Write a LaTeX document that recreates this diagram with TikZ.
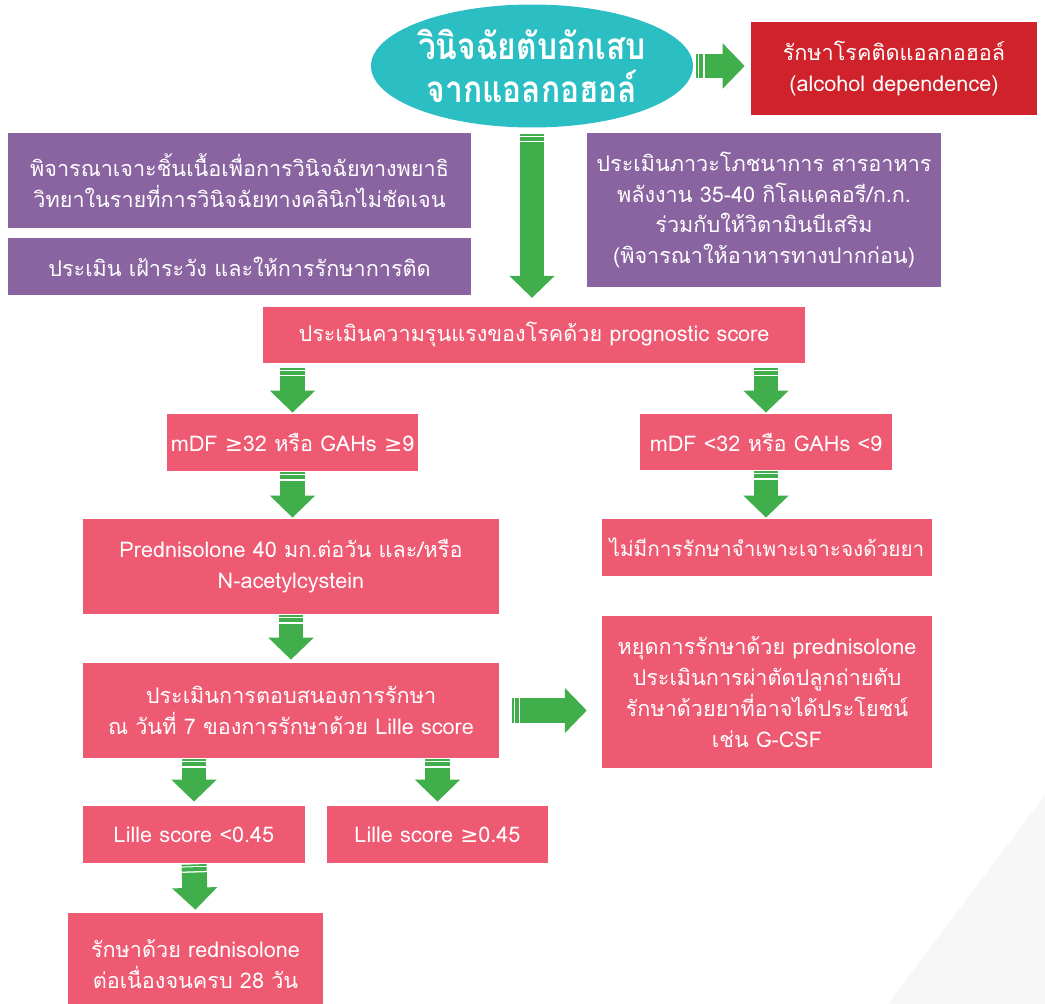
\documentclass[tikz,border=0pt]{standalone}
\usepackage{fontspec}
\setmainfont[Script=Thai]{Loma}
\newfontfamily\headfont[Script=Thai, FakeStretch=0.86]{Loma}
\newfontfamily\symfont{DejaVu Sans}
\usetikzlibrary{shapes.geometric, arrows.meta, positioning, calc}

\definecolor{headteal}{HTML}{2BBFC4}
\definecolor{alcred}{HTML}{D0222A}
\definecolor{boxpurple}{HTML}{8A63A1}
\definecolor{boxpink}{HTML}{EF5A73}
\definecolor{arrowgreen}{HTML}{40AE4A}
\definecolor{shadegray}{HTML}{F7F7F7}

\newcommand{\gte}{{\symfont ≥}}

\begin{document}
\begin{tikzpicture}[x=0.02cm, y=-0.02cm,
    boxtext/.style={text=white, align=center, inner sep=0pt,
        font=\fontsize{12.3}{17.5}\selectfont},
    pinkbox/.style={boxtext, fill=boxpink},
    purplebox/.style={boxtext, fill=boxpurple},
    garrow/.style={arrowgreen, line width=14.2pt,
        dash pattern=on 1pt off 0.6pt on 2.3pt off 0.75pt on 2000pt,
        -{Triangle[width=25pt, length=12.5pt]},
        shorten <=0.6pt, shorten >=0.6pt}]

    % Page and background shade
    \clip (0,0) rectangle (1045,1004);
    \fill[white] (0,0) rectangle (1045,1004);
    \fill[shadegray] (888,1004) -- (1045,795) -- (1045,1004) -- cycle;

    % Diagnosis and side boxes
    \node[ellipse, fill=headteal, text=white, align=center, inner sep=0pt,
        minimum width=5.4cm, minimum height=2.46cm,
        font=\headfont\bfseries\fontsize{21}{24.5}\selectfont] (diag) at (532,66)
        {วินิจฉัยตับอักเสบ\\จากแอลกอฮอล์};
    \node[boxtext, fill=alcred, minimum width=5.72cm, minimum height=1.86cm]
        (alc) at (894,68.5) {รักษาโรคติดแอลกอฮอล์\\(alcohol dependence)};
    \node[purplebox, minimum width=9.26cm, minimum height=1.9cm] (biopsy) at (239.5,180.5)
        {พิจารณาเจาะชิ้นเนื้อเพื่อการวินิจฉัยทางพยาธิ\\วิทยาในรายที่การวินิจฉัยทางคลินิกไม่ชัดเจน};
    \node[purplebox, minimum width=9.26cm, minimum height=1.14cm] (watch) at (239.5,266.5)
        {ประเมิน เฝ้าระวัง และให้การรักษาการติด};
    \node[purplebox, minimum width=7.08cm, minimum height=3.08cm] (nutr) at (764,210)
        {ประเมินภาวะโภชนาการ สารอาหาร\\พลังงาน 35-40 กิโลแคลอรี/ก.ก.\\ร่วมกับให้วิตามินบีเสริม\\(พิจารณาให้อาหารทางปากก่อน)};

    % Severity
    \node[pinkbox, minimum width=10.84cm, minimum height=1.12cm] (prog) at (534,335)
        {ประเมินความรุนแรงของโรคด้วย prognostic score};
    \node[pinkbox, minimum width=5.02cm, minimum height=1.14cm] (mdfhi) at (292.5,442.5)
        {mDF \gte32 หรือ GAHs \gte9};
    \node[pinkbox, minimum width=5.04cm, minimum height=1.12cm] (mdflo) at (766,442)
        {mDF <32 หรือ GAHs <9};

    % Treatment
    \node[pinkbox, minimum width=8.32cm, minimum height=1.9cm] (pred) at (291,566.5)
        {Prednisolone 40 มก.ต่อวัน และ/หรือ\\N-acetylcystein};
    \node[pinkbox, minimum width=6.6cm, minimum height=1.14cm,
        font=\fontsize{11.8}{17.5}\selectfont] (nodrug) at (767,547.5)
        {ไม่มีการรักษาจำเพาะเจาะจงด้วยยา};
    \node[pinkbox, minimum width=8.32cm, minimum height=1.9cm] (resp) at (291,710.5)
        {ประเมินการตอบสนองการรักษา\\ณ วันที่ 7 ของการรักษาด้วย Lille score};
    \node[pinkbox, minimum width=6.6cm, minimum height=3.04cm] (stop) at (767,692)
        {หยุดการรักษาด้วย prednisolone\\ประเมินการผ่าตัดปลูกถ่ายตับ\\รักษาด้วยยาที่อาจได้ประโยชน์\\เช่น G-CSF};
    \node[pinkbox, minimum width=4.44cm, minimum height=1.14cm] (lillelo) at (194,834.5)
        {Lille score <0.45};
    \node[pinkbox, minimum width=4.42cm, minimum height=1.14cm] (lillehi) at (437.5,834.5)
        {Lille score \gte0.45};
    \node[pinkbox, minimum width=5.1cm, minimum height=2.04cm] (cont) at (195.5,964)
        {รักษาด้วย rednisolone\\ต่อเนื่องจนครบ 28 วัน};

    % Arrows
    \draw[garrow, shorten <=3.4pt, shorten >=5pt] (diag.south) -- (diag.south |- prog.north);
    \draw[garrow, shorten <=1.7pt, shorten >=3.4pt] (diag.east) -- (diag.east -| alc.west);
    \draw[garrow, shorten <=2.8pt] (prog.south -| mdfhi.north) -- (mdfhi.north);
    \draw[garrow, shorten <=2.8pt] (prog.south -| mdflo.north) -- (mdflo.north);
    \draw[garrow] (mdfhi.south) -- (pred.north -| mdfhi.south);
    \draw[garrow] (mdflo.south) -- (nodrug.north -| mdflo.south);
    \draw[garrow, shorten >=1.7pt] (pred.south) -- (resp.north);
    \draw[garrow, shorten <=7.4pt, shorten >=8.5pt] (resp.east) -- (resp.east -| stop.west);
    \draw[garrow, shorten >=2.3pt] (resp.south -| lillelo.north) -- (lillelo.north);
    \draw[garrow, shorten >=2.3pt] (resp.south -| lillehi.north) -- (lillehi.north);
    \draw[garrow, shorten >=1.7pt] (lillelo.south) -- (cont.north);

\end{tikzpicture}
\end{document}
